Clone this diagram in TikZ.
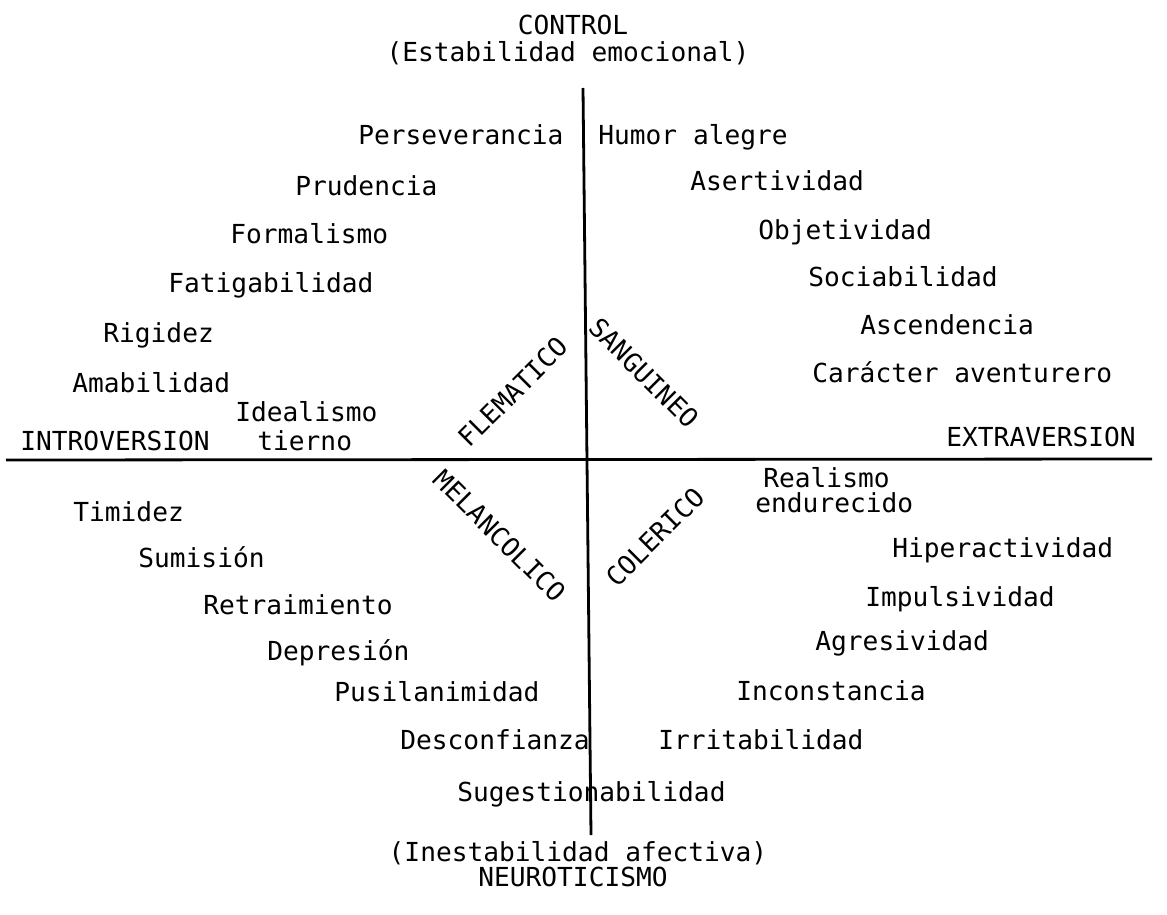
\documentclass[tikz,border=0pt]{standalone}
\usepackage{fontspec}
\setmainfont{DejaVu Sans Mono}
\begin{document}
\begin{tikzpicture}[x=0.5pt,y=-0.5pt,
  txt/.style={inner sep=0pt,font=\fontsize{13.1}{15}\selectfont},
  lbl/.style={txt,anchor=base west},
  ttl/.style={txt,anchor=base},
  axis/.style={line width=1.4pt}]
\useasboundingbox (0,0) rectangle (1167,915);
\coordinate (top) at (583,88);
\coordinate (bot) at (591,835);
\coordinate (west) at (6,460);
\coordinate (east) at (1152,459);
\draw[axis] (top) -- (bot);
\draw[axis] (west) -- (east);
\node[ttl] (control) at (573,35) {CONTROL};
\node[ttl] (estab) at (568,62) {(Estabilidad emocional)};
\node[ttl] (inest) at (578,861) {(Inestabilidad afectiva)};
\node[ttl] (neuro) at (573,886) {NEUROTICISMO};
\node[lbl] (intro) at (20,450) {INTROVERSION};
\node[lbl] (extra) at (946,446) {EXTRAVERSION};
\node[lbl] (perse) at (358,145) {Perseverancia};
\node[lbl] (prude) at (295,195) {Prudencia};
\node[lbl] (forma) at (230,243) {Formalismo};
\node[lbl] (fatig) at (168,292) {Fatigabilidad};
\node[lbl] (rigid) at (103,342) {Rigidez};
\node[lbl] (amabi) at (72,392) {Amabilidad};
\node[lbl] (ideal) at (235,421) {Idealismo};
\node[lbl] (tiern) at (257,450) {tierno};
\node[lbl] (humor) at (598,145) {Humor alegre};
\node[lbl] (asert) at (690,191) {Asertividad};
\node[lbl] (objet) at (758,239) {Objetividad};
\node[lbl] (socia) at (808,286) {Sociabilidad};
\node[lbl] (ascen) at (860,334) {Ascendencia};
\node[lbl] (carac) at (812,382) {Carácter aventurero};
\node[lbl] (timid) at (73,521) {Timidez};
\node[lbl] (sumis) at (138,567) {Sumisión};
\node[lbl] (retra) at (203,614) {Retraimiento};
\node[lbl] (depre) at (267,660) {Depresión};
\node[lbl] (pusil) at (334,701) {Pusilanimidad};
\node[lbl] (desco) at (400,749) {Desconfianza};
\node[lbl] (suges) at (457,801) {Sugestionabilidad};
\node[lbl] (reali) at (763,487) {Realismo};
\node[lbl] (endur) at (755,512) {endurecido};
\node[lbl] (hiper) at (892,557) {Hiperactividad};
\node[lbl] (impul) at (865,606) {Impulsividad};
\node[lbl] (agres) at (815,650) {Agresividad};
\node[lbl] (incon) at (736,700) {Inconstancia};
\node[lbl] (irrit) at (658,749) {Irritabilidad};
\node[txt,rotate=45] (flema) at (513,392) {FLEMATICO};
\node[txt,rotate=-45] (sangu) at (644,373) {SANGUINEO};
\node[txt,rotate=-45] (melan) at (500,536) {MELANCOLICO};
\node[txt,rotate=45] (coler) at (655,537) {COLERICO};
\end{tikzpicture}
\end{document}
